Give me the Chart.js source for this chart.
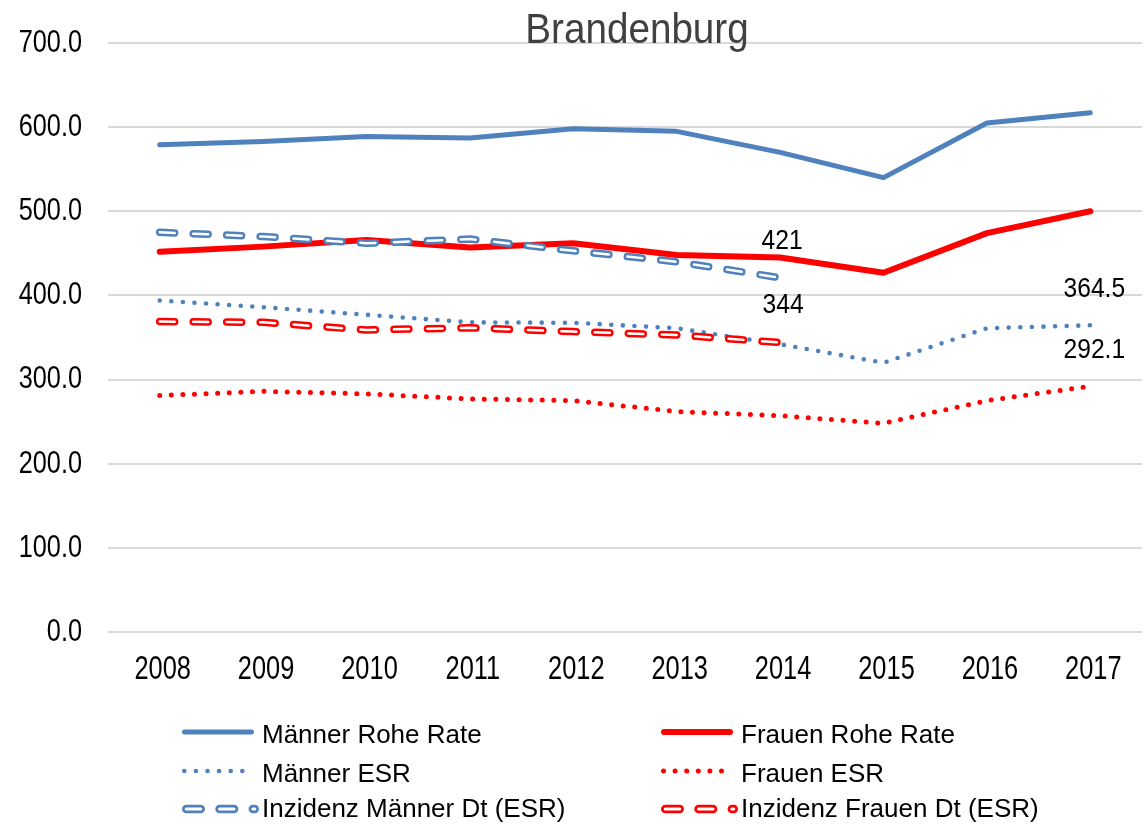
<!DOCTYPE html>
<html>
<head>
<meta charset="utf-8">
<script src="https://cdn.jsdelivr.net/npm/chart.js@4.4.1/dist/chart.umd.min.js"></script>
<style>
  body { margin: 0; background: #fff; }
  #wrap { width: 1148px; height: 824px; }
</style>
</head>
<body>
<div id="wrap"><canvas id="myChart1"></canvas></div>
<script>
const years = ['2008', '2009', '2010', '2011', '2012', '2013', '2014', '2015', '2016', '2017'];
const maennerRoh = [579, 583, 589, 587, 598, 595, 570, 540, 605, 617];
const frauenRoh = [452, 458, 466, 457, 462, 448, 445, 427, 474, 500];
const maennerESR = [394, 386, 377, 368, 367.5, 361, 342, 320, 361, 364.5];
const frauenESR = [281, 286, 283, 277, 275, 262, 257, 248, 275, 292.1];
const maennerDt = [475, 470, 462, 467, 453, 440, 421, null, null, null];
const frauenDt = [369, 368, 359, 361.5, 357, 353, 344, null, null, null];
const yMax = 700;
const yStep = 100;

const BLUE = '#4f81bd';
const RED = '#ff0000';
const FONT = "'Liberation Sans', Arial, sans-serif";

// styles of the six series (dt lines get a white inner stroke to look hollow)
const styles = {
    'Männer Rohe Rate': { color: BLUE, width: 5, dash: [] },
    'Frauen Rohe Rate': { color: RED, width: 6, dash: [] },
    'Männer ESR': { color: BLUE, width: 4.6, dash: [0, 11.6] },
    'Frauen ESR': { color: RED, width: 5, dash: [0, 11.6] },
    'Inzidenz Männer Dt (ESR)': { color: BLUE, width: 7.5, dash: [15, 18.5], hollow: true },
    'Inzidenz Frauen Dt (ESR)': { color: RED, width: 7.5, dash: [15, 18.5], hollow: true }
};

function line(label, data, order) {
    const s = styles[label];
    return {
        label: label,
        data: data,
        borderColor: s.color,
        borderWidth: s.width,
        borderDash: s.dash,
        borderCapStyle: 'round',
        borderJoinStyle: 'round',
        pointRadius: 0,
        tension: 0,
        fill: false,
        order: order
    };
}

function inner(label, data) {
    const s = styles[label];
    return {
        label: label + ' inner',
        data: data,
        borderColor: '#ffffff',
        borderWidth: 2.5,
        borderDash: s.dash,
        borderCapStyle: 'round',
        pointRadius: 0,
        tension: 0,
        fill: false,
        order: 0
    };
}

const datasets = [
    line('Männer Rohe Rate', maennerRoh, 3),
    line('Frauen Rohe Rate', frauenRoh, 2),
    line('Männer ESR', maennerESR, 3),
    line('Frauen ESR', frauenESR, 3),
    line('Inzidenz Männer Dt (ESR)', maennerDt, 1),
    inner('Inzidenz Männer Dt (ESR)', maennerDt),
    line('Inzidenz Frauen Dt (ESR)', frauenDt, 1),
    inner('Inzidenz Frauen Dt (ESR)', frauenDt)
];

// value labels: series, year index, offset of the text from the point
const valueLabels = [
    { series: 'Inzidenz Männer Dt (ESR)', index: 6, dx: 2, dy: -36 },
    { series: 'Inzidenz Frauen Dt (ESR)', index: 6, dx: 3, dy: -37 },
    { series: 'Männer ESR', index: 9, dx: 4, dy: -36 },
    { series: 'Frauen ESR', index: 9, dx: 4, dy: -36 }
];

const legendRows = [
    ['Männer Rohe Rate', 'Frauen Rohe Rate'],
    ['Männer ESR', 'Frauen ESR'],
    ['Inzidenz Männer Dt (ESR)', 'Inzidenz Frauen Dt (ESR)']
];

// narrow-looking text: scale the glyphs horizontally
function narrowText(ctx, text, x, y, size, sx, align) {
    ctx.save();
    ctx.font = size + 'px ' + FONT;
    ctx.textAlign = align;
    ctx.textBaseline = 'middle';
    ctx.translate(x, y);
    ctx.scale(sx, 1);
    ctx.fillText(text, 0, 0);
    ctx.restore();
}

const extras = {
    id: 'extras',
    afterDraw(chart) {
        const ctx = chart.ctx;
        const area = chart.chartArea;
        const xs = chart.scales.x;
        const ys = chart.scales.y;
        ctx.save();

        // axis labels
        ctx.fillStyle = '#000';
        ys.ticks.forEach((t, i) => {
            narrowText(ctx, t.value.toFixed(1), area.left - 26, ys.getPixelForTick(i), 32, 0.79, 'right');
        });
        xs.ticks.forEach((t, i) => {
            narrowText(ctx, years[i], xs.getPixelForTick(i) + 3, area.bottom + 38, 33, 0.77, 'center');
        });

        // title sits on top of the plot, over the 700 gridline
        ctx.fillStyle = '#404040';
        ctx.font = '42px ' + FONT;
        ctx.save();
        ctx.translate((area.left + area.right) / 2 + 12, 43);
        ctx.scale(0.92, 1);
        ctx.textAlign = 'center';
        ctx.textBaseline = 'alphabetic';
        ctx.fillText('Brandenburg', 0, 0);
        ctx.restore();

        // value labels
        ctx.fillStyle = '#000';
        valueLabels.forEach(v => {
            const di = chart.data.datasets.findIndex(d => d.label === v.series);
            const pt = chart.getDatasetMeta(di).data[v.index];
            const val = chart.data.datasets[di].data[v.index];
            narrowText(ctx, String(val), pt.x + v.dx, pt.y + v.dy, 28, 0.88, 'center');
        });

        // legend, two columns
        const colX = [182, 661];
        const rowY = [732, 771, 809];
        const baseY = [743, 782, 817];
        ctx.textAlign = 'left';
        ctx.textBaseline = 'alphabetic';
        ctx.font = '26px ' + FONT;
        legendRows.forEach((row, r) => {
            row.forEach((name, c) => {
                const s = styles[name];
                const w = s.hollow ? 8.5 : s.width;
                const x0 = colX[c] + w / 2;
                const x1 = colX[c] + (s.hollow ? 77 : 72) - w / 2;
                const y = rowY[r];
                ctx.lineCap = 'round';
                ctx.strokeStyle = s.color;
                ctx.lineWidth = w;
                ctx.setLineDash(s.hollow ? [14.5, 18.8] : s.dash);
                ctx.beginPath();
                ctx.moveTo(x0, y);
                ctx.lineTo(x1, y);
                ctx.stroke();
                if (s.hollow) {
                    ctx.strokeStyle = '#fff';
                    ctx.lineWidth = 3;
                    ctx.beginPath();
                    ctx.moveTo(x0, y);
                    ctx.lineTo(x1, y);
                    ctx.stroke();
                }
                ctx.setLineDash([]);
                ctx.fillStyle = '#000';
                ctx.fillText(name, colX[c] + 80, baseY[r]);
            });
        });
        ctx.restore();
    }
};

const ctx = document.getElementById('myChart1');

new Chart(ctx, {
    type: 'line',
    data: { labels: years, datasets: datasets },
    plugins: [extras],
    options: {
        responsive: true,
        maintainAspectRatio: false,
        animation: false,
        layout: { padding: { top: 43, right: 6, bottom: 142, left: 0 } },
        plugins: {
            legend: { display: false },
            tooltip: { enabled: false },
            title: { display: false }
        },
        scales: {
            x: {
                offset: true,
                afterFit(scale) { scale.height = 50; },
                grid: { display: false },
                border: { display: false },
                ticks: { display: false }
            },
            y: {
                min: 0,
                max: yMax,
                afterFit(scale) { scale.width = 108; },
                grid: { color: '#d9d9d9', lineWidth: 2, drawTicks: false },
                border: { display: false },
                ticks: { stepSize: yStep, display: false }
            }
        }
    }
});
</script>
</body>
</html>
